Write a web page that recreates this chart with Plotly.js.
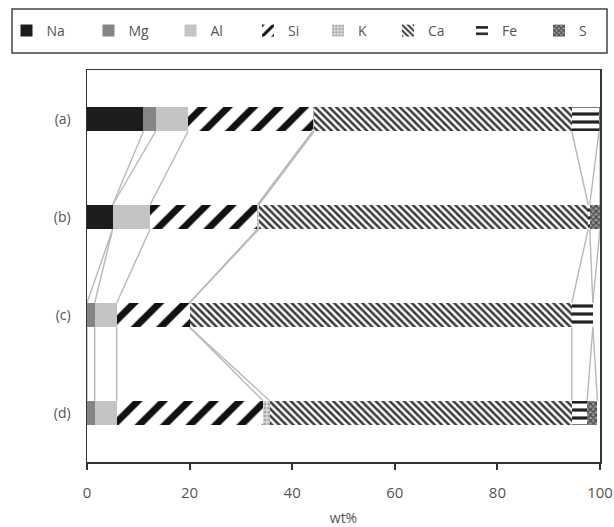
<!DOCTYPE html>
<html><head><meta charset="utf-8">
<script src="https://cdn.plot.ly/plotly-3.0.1.min.js"></script>
<style>body{margin:0;background:#fff}#chart{width:614px;height:527px}</style>
</head><body><div id="chart"></div>
<script>
// ---- data ----
const samples = ['(a)', '(b)', '(c)', '(d)'];
const elements = ['Na', 'Mg', 'Al', 'Si', 'K', 'Ca', 'Fe', 'S'];
const Na = [11.0, 5.0, 0.0, 0.0];
const Mg = [2.4, 0.0, 1.5, 1.5];
const Al = [6.3, 7.3, 4.3, 4.3];
const Si = [24.3, 20.9, 14.2, 28.5];
const K  = [0.3, 0.3, 0.0, 1.3];
const Ca = [50.2, 64.2, 74.5, 58.9];
const Fe = [5.3, 0.3, 4.1, 3.0];
const S  = [0.2, 2.0, 0.0, 2.0];
const xTicks = [0, 20, 40, 60, 80, 100];

const series = [Na, Mg, Al, Si, K, Ca, Fe, S];

// ---- styles ----
const styles = [
  {color: '#1c1c1c'},
  {color: '#858585'},
  {color: '#c4c4c4'},
  {color: '#ffffff', pattern: {shape: '/', fgcolor: '#111', bgcolor: '#ffffff', size: 18, solidity: 0.38}},
  {color: '#ffffff', pattern: {shape: '.', fgcolor: '#a8a8a8', bgcolor: '#dedede', size: 4, solidity: 0.5}},
  {color: '#ffffff', pattern: {shape: '\\', fgcolor: '#3a3a3a', bgcolor: '#ffffff', size: 5, solidity: 0.5}},
  {color: '#ffffff', pattern: {shape: '-', fgcolor: '#222', bgcolor: '#ffffff', size: 8, solidity: 0.4}},
  {color: '#ffffff', pattern: {shape: 'x', fgcolor: '#444', bgcolor: '#999', size: 4, solidity: 0.5}}
];
// which legend box part each element goes to
const legendOf = ['legend', 'legend', 'legend', 'legend2', 'legend2', 'legend2', 'legend3', 'legend3'];
const barW = 0.25;
const yPos = samples.map((s, i) => i);

const traces = [];

// series connector lines (from cumulative ends)
const lx = [], ly = [];
const cum = samples.map(() => 0);
series.forEach((vals) => {
  const ends = vals.map((v, i) => (cum[i] += v));
  for (let i = 0; i < samples.length - 1; i++) {
    lx.push(ends[i], ends[i + 1], null);
    ly.push(yPos[i] + barW / 2, yPos[i + 1] - barW / 2, null);
  }
});
traces.push({
  type: 'scatter', mode: 'lines', x: lx, y: ly, showlegend: false,
  line: {color: '#b8b8b8', width: 1.4}, hoverinfo: 'skip', connectgaps: false
});

series.forEach((vals, k) => {
  const st = styles[k];
  const marker = {color: st.color, line: {width: 0}};
  if (st.pattern) marker.pattern = st.pattern;
  traces.push({
    type: 'bar', orientation: 'h', name: elements[k], legend: legendOf[k],
    x: vals, y: yPos, width: barW, marker: marker
  });
});

// pixel helpers for the legend frame (plot area: x 87..600, y 70..462)
const px = (p) => (p - 87) / 513;
const py = (p) => (462 - p) / 392;

const legendBase = (xPix, ew) => ({
  orientation: 'h', xref: 'container', yref: 'container',
  x: xPix / 614, y: 1 - 31 / 527, xanchor: 'left', yanchor: 'middle',
  borderwidth: 0, bgcolor: 'rgba(0,0,0,0)',
  font: {size: 14, color: '#555'}, traceorder: 'normal',
  entrywidth: ew, entrywidthmode: 'pixels', itemwidth: 30
});

const layout = {
  width: 614, height: 527,
  margin: {l: 87, r: 14, t: 70, b: 65},
  paper_bgcolor: '#fff', plot_bgcolor: '#fff',
  barmode: 'stack',
  font: {family: 'Open Sans, sans-serif', size: 14, color: '#555'},
  showlegend: true,
  legend: legendBase(6.5, 37),
  legend2: legendBase(248, 25),
  legend3: legendBase(462, 32),
  shapes: [{
    type: 'rect', xref: 'paper', yref: 'paper', layer: 'below',
    x0: px(12), x1: px(607), y0: py(53), y1: py(9),
    line: {color: '#444', width: 1.5}, fillcolor: 'rgba(0,0,0,0)'
  }],
  xaxis: {
    range: [0, 100], tickvals: xTicks, ticktext: xTicks.map(String),
    ticks: 'outside', ticklen: 6, tickwidth: 2, tickcolor: '#333',
    showline: true, linecolor: '#333', linewidth: 1.5, mirror: true,
    showgrid: false, zeroline: false, ticklabelstandoff: 10,
    tickfont: {size: 15, color: '#555'},
    title: {text: 'wt%', font: {size: 14, color: '#555'}, standoff: 16}
  },
  yaxis: {
    range: [3.5, -0.5], tickvals: yPos, ticktext: samples,
    ticks: 'outside', ticklen: 12, tickcolor: 'rgba(0,0,0,0)',
    showline: true, linecolor: '#333', linewidth: 1.5, mirror: true,
    showgrid: false, zeroline: false,
    tickfont: {size: 14, color: '#555'}
  }
};

Plotly.newPlot('chart', traces, layout, {displayModeBar: false, staticPlot: true});
</script>
</body></html>
